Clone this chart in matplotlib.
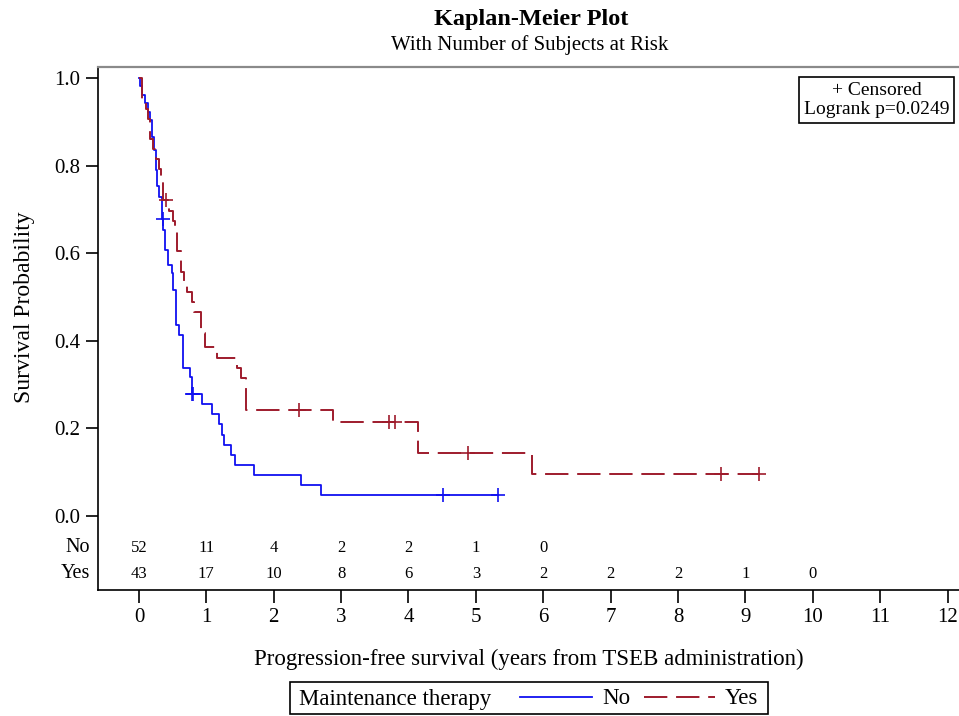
import numpy as np
import matplotlib
matplotlib.use('Agg')
import matplotlib.pyplot as plt
from matplotlib.lines import Line2D
from matplotlib.patches import Rectangle

plt.rcParams['font.family'] = ['Liberation Serif', 'DejaVu Serif']

# Maintenance therapy = No
t_no = [0, 0.02, 0.05, 0.09, 0.13, 0.16, 0.20, 0.22, 0.25, 0.27, 0.30,
        0.34, 0.36, 0.39, 0.435, 0.484, 0.51, 0.55, 0.60, 0.66, 0.757,
        0.78, 0.94, 1.09, 1.19, 1.23, 1.26, 1.36, 1.42, 1.71, 2.40, 2.70]
s_no = [1.0, 0.981, 0.961, 0.942, 0.922, 0.904, 0.865, 0.836, 0.79, 0.753, 0.729,
        0.678, 0.653, 0.607, 0.573, 0.555, 0.516, 0.436, 0.413, 0.338, 0.317,
        0.279, 0.256, 0.233, 0.209, 0.186, 0.163, 0.140, 0.116, 0.093, 0.070, 0.047]
end_no = 5.33
cens_no = [0.35, 0.78, 0.80, 4.51, 5.33]

# Maintenance therapy = Yes
t_yes = [0, 0.04, 0.10, 0.14, 0.17, 0.21, 0.25, 0.29, 0.33, 0.36,
         0.45, 0.50, 0.53, 0.56, 0.63, 0.67, 0.71, 0.78, 0.81, 0.92,
         0.98, 1.16, 1.45, 1.52, 1.59, 2.88, 4.14, 5.84]
s_yes = [1.0, 0.953, 0.930, 0.907, 0.860, 0.837, 0.814, 0.791, 0.767, 0.721,
         0.697, 0.674, 0.651, 0.604, 0.558, 0.535, 0.511, 0.488, 0.465, 0.418,
         0.386, 0.361, 0.338, 0.315, 0.242, 0.215, 0.143, 0.096]
end_yes = 9.20
cens_yes = [0.40, 2.37, 3.71, 3.80, 4.89, 8.64, 9.20]

# numbers at risk
risk_t = [0, 1, 2, 3, 4, 5, 6, 7, 8, 9, 10]
risk_no = [52, 11, 4, 2, 2, 1, 0]
risk_yes = [43, 17, 10, 8, 6, 3, 2, 2, 2, 1, 0]

c_no = '#1010F0'
c_yes = '#9E1B2C'

fig = plt.figure(figsize=(9.59, 7.16), dpi=100)
ax = fig.add_axes([98/959, 126/716, 861/959, 523/716])

def censor_y(t, s, c):
    idx = np.searchsorted(t, c, side='right') - 1
    return np.array(s)[idx]

ax.step(t_no + [end_no], s_no + [s_no[-1]], where='post', color=c_no, lw=1.3)
ax.plot(cens_no, censor_y(t_no, s_no, cens_no), ls='none', marker='+',
        ms=10, mew=1.2, color=c_no)
ax.step(t_yes + [end_yes], s_yes + [s_yes[-1]], where='post', color=c_yes,
        lw=1.4, dashes=(12, 4.5))
ax.plot(cens_yes, censor_y(t_yes, s_yes, cens_yes), ls='none', marker='+',
        ms=10, mew=1.2, color=c_yes)

ax.set_xlim(-0.608, 12.17)
ax.set_ylim(-0.169, 1.025)
ax.set_xticks(range(0, 13))
ax.set_yticks([0.0, 0.2, 0.4, 0.6, 0.8, 1.0])
ax.set_yticklabels(['0.0', '0.2', '0.4', '0.6', '0.8', '1.0'])
ax.tick_params(axis='both', labelsize=15, length=9, width=1.2, direction='out')
ax.tick_params(axis='x', pad=4)
ax.tick_params(axis='y', pad=4)
ax.spines['right'].set_visible(False)
ax.spines['top'].set_color('#8a8a8a')
ax.spines['top'].set_linewidth(1.6)
ax.spines['left'].set_linewidth(1.2)
ax.spines['bottom'].set_linewidth(1.2)

ax.set_xlabel('Progression-free survival (years from TSEB administration)', fontsize=16.5, labelpad=16)
ax.set_ylabel('Survival Probability', fontsize=17)
ax.yaxis.set_label_coords(-0.073, 0.54)

# at-risk table inside the axes
for x, n in zip(risk_t, risk_no):
    ax.text(x, -0.073, str(n), ha='center', va='center', fontsize=12)
for x, n in zip(risk_t, risk_yes):
    ax.text(x, -0.132, str(n), ha='center', va='center', fontsize=12)
tr = ax.get_yaxis_transform()
ax.text(-0.009, -0.073, 'No', transform=tr, ha='right', va='center', fontsize=14.5)
ax.text(-0.009, -0.132, 'Yes', transform=tr, ha='right', va='center', fontsize=14.5)

ax.text(0.9045, 0.937, '+ Censored\nLogrank p=0.0249', transform=ax.transAxes,
        ha='center', va='center', fontsize=14, linespacing=1.12,
        bbox=dict(boxstyle='square,pad=0.25', fc='white', ec='black', lw=1.2))

fig.text(531/959, 1 - 19/716, 'Kaplan-Meier Plot', ha='center', va='center',
         fontsize=17.5, fontweight='bold')
fig.text(530/959, 1 - 45/716, 'With Number of Subjects at Risk', ha='center',
         va='center', fontsize=15)

# legend at bottom
fig.patches.append(Rectangle((290/959, 1 - 714/716), 478/959, 32/716,
                             transform=fig.transFigure, fill=False, ec='black', lw=1.2))
fig.text(299/959, 1 - 699/716, 'Maintenance therapy', ha='left', va='center', fontsize=16.5)
handles = [Line2D([], [], color=c_no, lw=1.3),
           Line2D([], [], color=c_yes, lw=1.4, dashes=(12, 4.5))]
fig.legend(handles, ['No', 'Yes'], ncol=2, frameon=False, fontsize=16.5,
           loc='center left', bbox_to_anchor=(509/959, 1 - 699/716),
           handlelength=3.1, handletextpad=0.45, columnspacing=0.6, borderpad=0,
           handleheight=0.5)

fig.savefig('out.png', dpi=100)
